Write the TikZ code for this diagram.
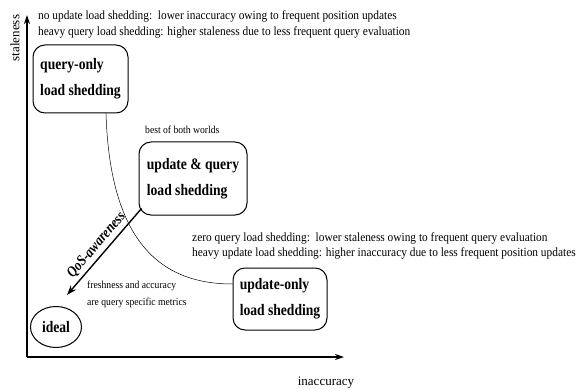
\documentclass[tikz,border=0pt]{standalone}
\usepackage{fontspec}
\setmainfont{Liberation Serif}
\newfontfamily\narrowfont[FakeStretch=0.85]{Liberation Serif}
\newfontfamily\notefont[FakeStretch=0.91]{Liberation Serif}
\usetikzlibrary{shapes.geometric,arrows.meta}
\begin{document}
\begin{tikzpicture}[x=1pt, y=-1pt]
  \tikzstyle{shed} = [draw, rounded corners=12pt, line width=1pt, align=left, inner sep=0pt, font=\narrowfont\fontsize{16}{26}\selectfont\bfseries]
  \tikzstyle{note} = [align=left, inner sep=0pt, anchor=west, font=\notefont\fontsize{12.5}{15.5}\selectfont]
  \tikzstyle{small} = [align=left, inner sep=0pt, anchor=west, font=\notefont\fontsize{10.6}{17}\selectfont]
  \tikzstyle{axis} = [-{Stealth[length=9pt,width=6pt]}, line width=1.2pt]
  \useasboundingbox (0,0) rectangle (577,390);
  % axes
  \coordinate (origin) at (27,357);
  \coordinate (ytop) at (27,15);
  \coordinate (xend) at (344,357);
  \draw[axis] (origin) -- (ytop);
  \draw[axis] (origin) -- (xend);
  \node[rotate=90, inner sep=0pt, font=\fontsize{13}{13}\selectfont] (stale) at (15,38) {staleness};
  \node[inner sep=0pt, font=\fontsize{13}{13}\selectfont] (inacc) at (326,383) {inaccuracy};
  % the three load shedding modes and the ideal
  \node[shed, minimum width=95pt, minimum height=68pt] (qo) at (80.5,79) {query-only\\load shedding};
  \node[shed, minimum width=108pt, minimum height=73pt] (uq) at (193,178.5) {update \& query\\load shedding};
  \node[shed, minimum width=94pt, minimum height=62pt] (uo) at (280,299) {update-only\\load shedding};
  \node[draw, ellipse, line width=1pt, minimum width=51pt, minimum height=41pt, inner sep=0pt, font=\narrowfont\fontsize{16}{16}\selectfont\bfseries] (ideal) at (56,327) {ideal};
  % notes
  \node[note] (topnote) at (38,24.5) {no update load shedding:\ \ lower inaccuracy owing to frequent position updates\\heavy query load shedding: higher staleness due to less frequent query evaluation};
  \node[note] (botnote) at (192,246) {zero query load shedding:\ \ lower staleness owing to frequent query evaluation\\heavy update load shedding: higher inaccuracy due to less frequent position updates};
  \node[small] (best) at (145,130) {best of both worlds};
  \node[small] (fresh) at (87,294) {freshness and accuracy\\are query specific metrics};
  % trade-off curve
  \draw[line width=0.5pt] ([xshift=25.5pt]qo.south) .. controls +(4,127) and +(-73,0) .. ([yshift=15pt]uo.west);
  % QoS arrow
  \coordinate (qostip) at (67,295);
  \draw[-{Stealth[length=10pt,width=7pt]}, line width=1.4pt] ([xshift=3pt,yshift=7pt]uq.south west) -- (qostip)
    node[midway, sloped, above, font=\narrowfont\fontsize{15}{15}\selectfont\bfseries\itshape] {QoS-awareness};
\end{tikzpicture}
\end{document}
